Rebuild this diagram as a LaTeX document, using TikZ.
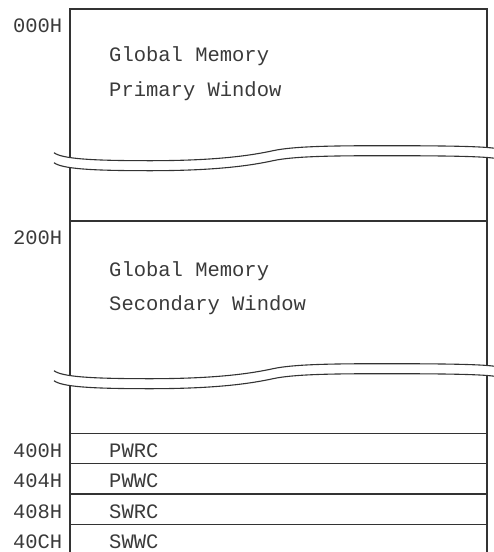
\documentclass[tikz,border=0pt]{standalone}
\usepackage{fontspec}
\newfontfamily\memfont{Liberation Mono}
\usepackage{tikz}
\definecolor{inkgray}{HTML}{333333}
\definecolor{txtgray}{HTML}{3A3A3A}
% wavy cut line across the map, #2 = y of its lowest point
\newcommand{\mapcut}[2][]{%
  \draw[#1] (54,#2-8) .. controls (62,#2-2) and (90,#2) .. (150,#2)
    .. controls (215,#2) and (250,#2-5) .. (273,#2-10)
    .. controls (293,#2-14.35) and (330,#2-15) .. (383,#2-15)
    .. controls (440,#2-15) and (480,#2-14.5) .. (494,#2-12.5);}

\begin{document}
\begin{tikzpicture}[
  x=1pt, y=-1pt,
  memline/.style={draw=inkgray, line width=1.1pt},
  addr/.style={anchor=base east, inner sep=0pt, text=txtgray,
               font=\memfont\fontsize{20.5}{24}\selectfont},
  memtxt/.style={addr, anchor=base west}
]
\useasboundingbox (0,0) rectangle (494,552);
% frame of the map, open at the bottom
\draw[memline] (70,552) -- (70,9) -- (487,9) -- (487,552);
\draw[memline] (70,221) -- (487,221);

% the two cuts
\mapcut[white, line width=9pt]{165.7}
\mapcut[memline]{160.7}
\mapcut[memline]{170.7}
\mapcut[white, line width=9pt]{383.7}
\mapcut[memline]{378.7}
\mapcut[memline]{388.7}

% windows
\node[addr] (a000) at (62.5,32.5) {000H};
\node[memtxt] (gm1) at (109,61) {Global Memory};
\node[memtxt] (pw) at (109,96) {Primary Window};
\node[addr] (a200) at (62.5,244.5) {200H};
\node[memtxt] (gm2) at (109,276) {Global Memory};
\node[memtxt] (sw) at (109,310.5) {Secondary Window};

% registers
\foreach \adr/\reg/\y [count=\i] in {400H/PWRC/433.3, 404H/PWWC/463.5, 408H/SWRC/494, 40CH/SWWC/524.3} {
  \draw[memline] (70,\y) -- (487,\y);
  \node[addr] (ra\i) at (62.5,\y+24.3) {\adr};
  \node[memtxt] (rn\i) at (109,\y+24.3) {\reg};
}
\end{tikzpicture}
\end{document}
